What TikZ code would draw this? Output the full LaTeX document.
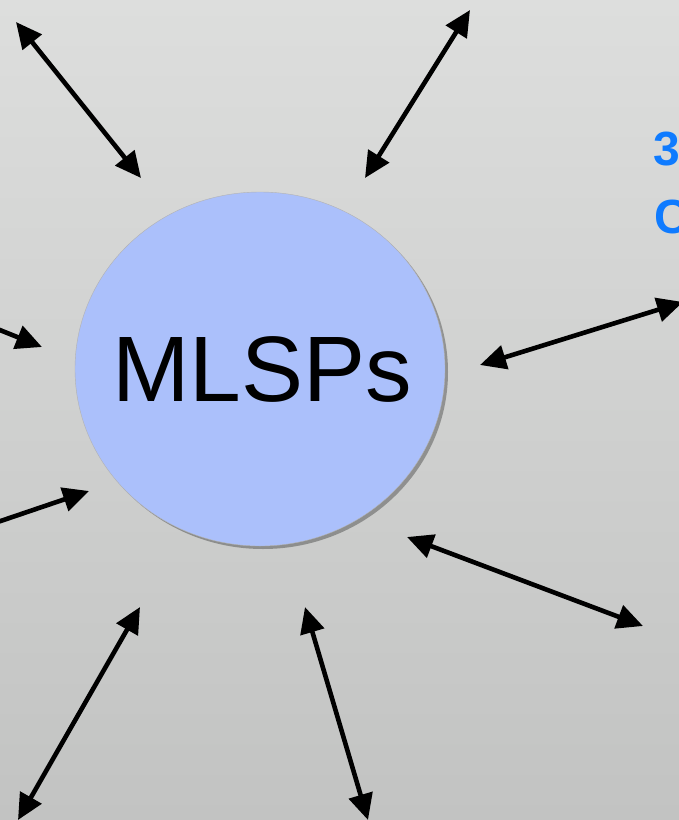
\documentclass[tikz,border=0pt]{standalone}
\usepackage{fontspec}
\setmainfont{Liberation Sans}
\usetikzlibrary{arrows.meta,shadows,shapes.geometric}
\definecolor{bgtop}{HTML}{DDDEDD}
\definecolor{bgbot}{HTML}{C2C3C2}
\definecolor{bubble}{HTML}{ABC0FB}
\definecolor{linkblue}{HTML}{0F7BFF}
\tikzset{
  tipshape/.style={},
  link/.style={line width=4.6pt, {Triangle[length=26pt,width=24pt]}-{Triangle[length=26pt,width=24pt]}},
  inlink/.style={line width=4.6pt, -{Triangle[length=26pt,width=24pt]}},
  hub/.style={ellipse, minimum width=370pt, minimum height=354pt, fill=bubble, draw=black!30, line width=0.4pt,
    drop shadow={shadow xshift=3pt, shadow yshift=-3pt, opacity=0.3, fill=black}},
  sidetext/.style={text=linkblue, font=\fontsize{48}{56}\selectfont\bfseries, inner sep=0pt}
}
\begin{document}
\begin{tikzpicture}[x=1pt,y=-1pt]
  \useasboundingbox (0,0) rectangle (679,820);
  \clip (0,0) rectangle (679,820);
  \shade[top color=bgtop, bottom color=bgbot] (0,0) rectangle (679,820);

  % central hub
  \node[hub] (hub) at (260,369) {};
  \node[font=\fontsize{93}{100}\selectfont, inner sep=0pt] (label) at (262,369) {MLSPs};

  % side labels running past the right edge
  \node[sidetext, anchor=base west] (t1) at (653,165) {3};
  \node[sidetext, anchor=base west] (t2) at (654,233) {C};

  % end points of the connectors
  \coordinate (a1) at (16,22);   \coordinate (b1) at (141,178);
  \coordinate (a2) at (470,10);  \coordinate (b2) at (365,178);
  \coordinate (a3) at (-20,322); \coordinate (b3) at (42,347);
  \coordinate (a4) at (-20,528); \coordinate (b4) at (89,491);
  \coordinate (a5) at (683,302); \coordinate (b5) at (480,365);
  \coordinate (a6) at (643,626); \coordinate (b6) at (407,537);
  \coordinate (a7) at (18,820);  \coordinate (b7) at (140,607);
  \coordinate (a8) at (368,820); \coordinate (b8) at (305,607);

  \draw[link] (a1) -- (b1);
  \draw[link] (a2) -- (b2);
  \draw[inlink] (a3) -- (b3);
  \draw[inlink] (a4) -- (b4);
  \draw[link] (a5) -- (b5);
  \draw[link] (a6) -- (b6);
  \draw[link] (a7) -- (b7);
  \draw[link] (a8) -- (b8);
\end{tikzpicture}
\end{document}
